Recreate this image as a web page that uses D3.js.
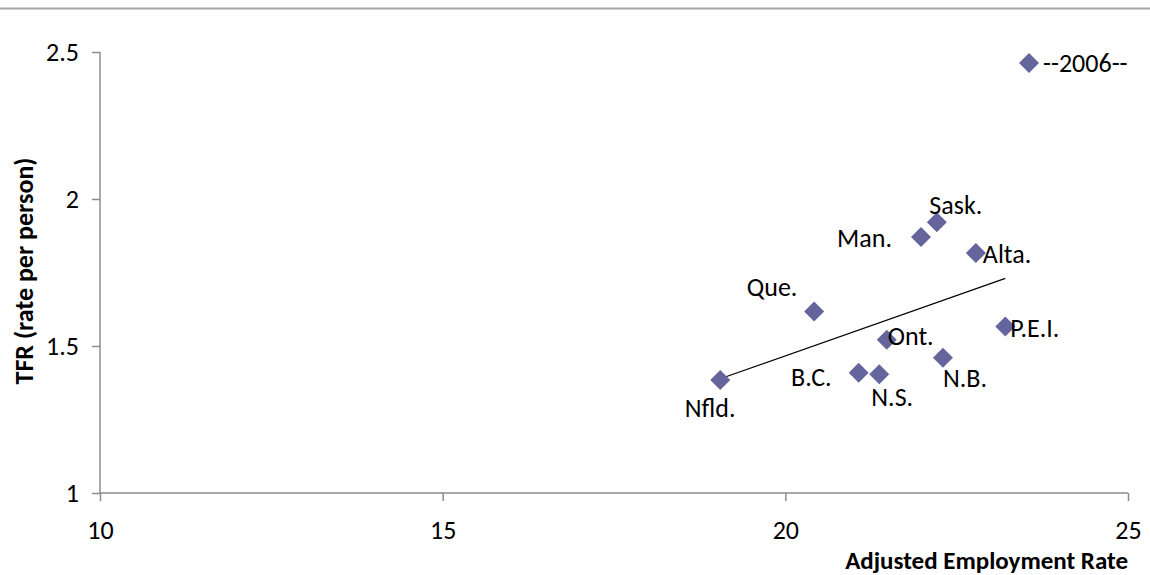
<!DOCTYPE html>
<html><head><meta charset="utf-8">
<script src="https://cdn.jsdelivr.net/npm/d3@7"></script>
<style>
body{margin:0;background:#fff;}
svg{display:block;font-family:Carlito,Lato,"Open Sans",sans-serif;}
</style></head>
<body><svg id="c" width="1150" height="575"></svg>
<script>
// Data
const provinces = ["Nfld.","Que.","B.C.","N.S.","Ont.","N.B.","Man.","Sask.","Alta.","P.E.I."];
const employment = [19.05,20.42,21.07,21.37,21.48,22.30,21.98,22.21,22.78,23.21];
const tfr = [1.384,1.617,1.409,1.404,1.521,1.460,1.871,1.921,1.816,1.566];
const xTicks = [10,15,20,25];
const yTicks = [1,1.5,2,2.5];
const seriesName = "--2006--";
const xTitle = "Adjusted Employment Rate";
const yTitle = "TFR (rate per person)";

// Label placement (style)
const labelPlace = {
  "Nfld.":[-10,28,"middle"], "Que.":[-42,-25,"middle"], "B.C.":[-27,4,"end"],
  "N.S.":[13,23,"middle"], "Ont.":[1,-4,"start"], "N.B.":[22,20,"middle"],
  "Man.":[-29,1,"end"], "Sask.":[19,-17,"middle"], "Alta.":[7,1,"start"], "P.E.I.":[5,1,"start"]
};

const svg = d3.select("#c");
const x = d3.scaleLinear().domain([10,25]).range([100,1128]);
const y = d3.scaleLinear().domain([1,2.5]).range([493,52]);
const color = "#65659d";
const axisColor = "#8c8c8c";
const fs = 26;

// top border line
svg.append("line").attr("x1",0).attr("x2",1150).attr("y1",8.5).attr("y2",8.5)
  .attr("stroke","#a6a6a6").attr("stroke-width",2);

// axes
const gx = svg.append("g").attr("transform","translate(0,493)")
  .call(d3.axisBottom(x).tickValues(xTicks).tickSize(8).tickPadding(20).tickFormat(d3.format("~g")));
const gy = svg.append("g").attr("transform","translate(100,0)")
  .call(d3.axisLeft(y).tickValues(yTicks).tickSize(8).tickPadding(13).tickFormat(d3.format("~g")));
[gx,gy].forEach(g=>{
  g.select(".domain").attr("stroke",axisColor).attr("stroke-width",1.5);
  g.selectAll(".tick line").attr("stroke",axisColor).attr("stroke-width",1.5);
  g.selectAll(".tick text").attr("fill","#000").style("font-size",fs+"px").style("font-family","Carlito,Lato,sans-serif");
});
gx.select(".domain").attr("d",`M100,0H1128`);
gy.select(".domain").attr("d",`M0,493V52`);

// axis titles
svg.append("text").attr("x",1128).attr("y",569).attr("text-anchor","end")
  .style("font-size","25px").style("font-weight","bold").text(xTitle);
svg.append("text").attr("transform","translate(33,271) rotate(-90)").attr("text-anchor","middle")
  .style("font-size",fs+"px").style("font-weight","bold").text(yTitle);

// trendline (least squares over data range)
const n = employment.length;
const mx = d3.mean(employment), my = d3.mean(tfr);
let sxy=0,sxx=0;
for(let i=0;i<n;i++){sxy+=(employment[i]-mx)*(tfr[i]-my);sxx+=(employment[i]-mx)**2;}
const slope = sxy/sxx, icpt = my - slope*mx;
const [x0,x1] = d3.extent(employment);
svg.append("line").attr("x1",x(x0)).attr("y1",y(icpt+slope*x0))
  .attr("x2",x(x1)).attr("y2",y(icpt+slope*x1)).attr("stroke","#000").attr("stroke-width",1.2);

// points
const diamond = d3.symbol().type(d3.symbolSquare).size(200);
svg.append("g").selectAll("path").data(provinces).join("path")
  .attr("d",diamond)
  .attr("transform",(d,i)=>`translate(${x(employment[i])},${y(tfr[i])}) rotate(45)`)
  .attr("fill",color);

// labels
svg.append("g").selectAll("text").data(provinces).join("text")
  .attr("x",(d,i)=>x(employment[i])+labelPlace[d][0])
  .attr("y",(d,i)=>y(tfr[i])+labelPlace[d][1])
  .attr("dy","0.35em")
  .attr("text-anchor",d=>labelPlace[d][2])
  .style("font-size",fs+"px").text(d=>d);

// legend
svg.append("path").attr("d",diamond).attr("transform","translate(1029,63) rotate(45)").attr("fill",color);
svg.append("text").attr("x",1043).attr("y",63).attr("dy","0.35em").style("font-size",fs+"px").text(seriesName);
</script></body></html>
